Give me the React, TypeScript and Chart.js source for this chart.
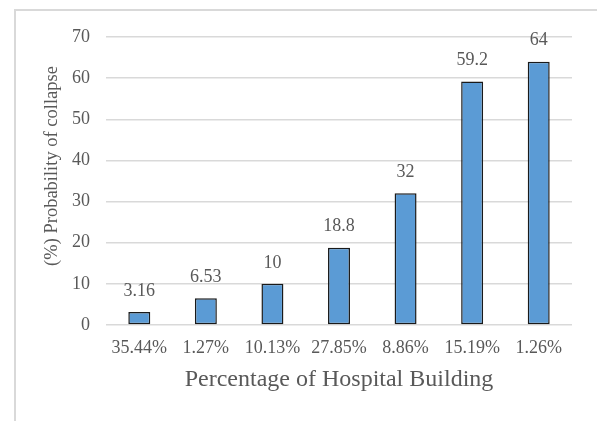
import React, { useEffect, useRef } from "react";
import { Chart, registerables } from "chart.js";

Chart.register(...registerables);

const categories = ["35.44%", "1.27%", "10.13%", "27.85%", "8.86%", "15.19%", "1.26%"];
const collapseProbability = [3.16, 6.53, 10, 18.8, 32, 59.2, 64];
const yTicks = [0, 10, 20, 30, 40, 50, 60, 70];
const xTitle = "Percentage of Hospital Building";
const yTitle = "(%) Probability of collapse";

const FONT = "'Liberation Serif', 'Times New Roman', serif";
const TEXT = "#595959";

const labelPlugin = {
  id: "valueLabels",
  afterDatasetsDraw(chart: any) {
    const ctx = chart.ctx;
    const meta = chart.getDatasetMeta(0);
    ctx.save();
    ctx.font = `18px ${FONT}`;
    ctx.fillStyle = TEXT;
    ctx.textAlign = "center";
    ctx.textBaseline = "middle";
    meta.data.forEach((bar: any, i: number) => {
      ctx.fillText(String(collapseProbability[i]), bar.x, bar.y - 21);
    });
    ctx.restore();
  },
};

const yTitlePlugin = {
  id: "yTitle",
  afterDraw(chart: any) {
    const ctx = chart.ctx;
    const area = chart.chartArea;
    ctx.save();
    ctx.font = `18.5px ${FONT}`;
    ctx.fillStyle = TEXT;
    ctx.textAlign = "center";
    ctx.textBaseline = "middle";
    ctx.translate(52, (area.top + area.bottom) / 2 - 15);
    ctx.rotate(-Math.PI / 2);
    ctx.fillText(yTitle, 0, 0);
    ctx.restore();
  },
};

export default function App() {
  const ref = useRef<HTMLCanvasElement>(null);
  useEffect(() => {
    if (!ref.current) return;
    const chart = new Chart(ref.current, {
      type: "bar",
      data: {
        labels: categories,
        datasets: [
          {
            data: collapseProbability,
            backgroundColor: "#5B9BD5",
            borderColor: "#1a1a1a",
            borderWidth: 1.5,
            borderSkipped: false,
            barPercentage: 0.33,
            categoryPercentage: 1,
          },
        ],
      },
      options: {
        animation: false,
        responsive: false,
        maintainAspectRatio: false,
        layout: { padding: { left: 0, right: 25, top: 37, bottom: 0 } },
        plugins: { legend: { display: false }, tooltip: { enabled: false } },
        scales: {
          x: {
            grid: { display: false, drawTicks: false },
            border: { display: false },
            ticks: { font: { family: FONT, size: 18 }, color: TEXT, padding: 12 },
            title: {
              display: true,
              text: xTitle,
              font: { family: FONT, size: 24 },
              color: TEXT,
              padding: { top: 0, bottom: 27 },
            },
            afterFit(scale: any) {
              scale.height = 96;
            },
          },
          y: {
            min: 0,
            max: 70,
            afterBuildTicks(scale: any) {
              scale.ticks = yTicks.map((v) => ({ value: v }));
            },
            grid: { color: "#d9d9d9", lineWidth: 1.5, drawTicks: false },
            border: { display: false },
            ticks: { font: { family: FONT, size: 18 }, color: TEXT, padding: 16 },
            afterFit(scale: any) {
              scale.width = 106;
            },
          },
        },
      },
      plugins: [labelPlugin, yTitlePlugin],
    });
    return () => chart.destroy();
  }, []);

  return (
    <div style={{ position: "fixed", left: 0, top: 0, width: 597, height: 421, background: "#fff", overflow: "hidden" }}>
      <div
        style={{
          position: "absolute",
          left: 14,
          top: 9,
          width: 700,
          height: 500,
          borderLeft: "2px solid #d9d9d9",
          borderTop: "2px solid #d9d9d9",
        }}
      />
      <canvas ref={ref} width={597} height={421} style={{ position: "absolute", left: 0, top: 0 }} />
    </div>
  );
}
